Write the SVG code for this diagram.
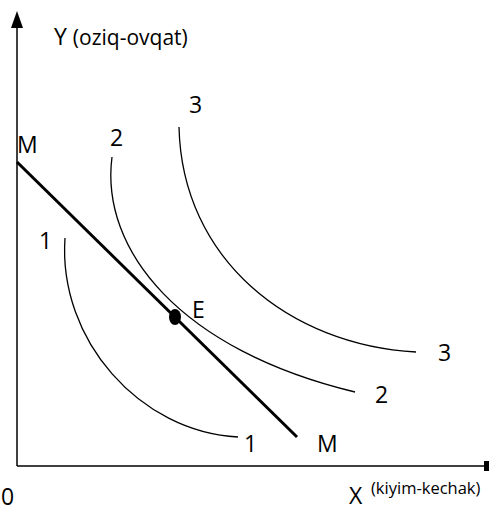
<svg xmlns="http://www.w3.org/2000/svg" width="489" height="511" viewBox="0 0 489 511">
<style>
text{font-family:"Open Sans","Liberation Sans",sans-serif;fill:#000}
.lab{font-size:23px}
.curve{fill:none;stroke:#000;stroke-width:1.3}
.axis{fill:none;stroke:#000;stroke-width:1.5}
</style>
<rect width="489" height="511" fill="#fff"/>
<g id="connectors">
<path class="axis" d="M17,466 V26"/>
<polygon points="17,11 11,28 23,28" fill="#000"/>
<path class="axis" d="M17,466 H485"/>
<rect x="484" y="461" width="5" height="10" fill="#000"/>
<path d="M17,162 L297,437" stroke="#000" stroke-width="3" fill="none"/>
<path id="curve1" class="curve" d="M65,238 C58,340 140,432 238,437"/>
<path id="curve2" class="curve" d="M112,157 C100,250 180,350 355,392"/>
<path id="curve3" class="curve" d="M179,127 C182,260 290,345 416,352"/>
</g>
<g id="E"><ellipse cx="175" cy="317" rx="6" ry="8" fill="#000"/><text class="lab" x="192" y="318">E</text></g>
<g id="axisY"><text x="54" y="45" font-size="23">Y <tspan font-size="21">(oziq-ovqat)</tspan></text></g>
<g id="axisX"><text class="lab" x="349" y="504">X</text><text x="371" y="494" font-size="16.5">(kiyim-kechak)</text></g>
<g id="origin"><text class="lab" x="1" y="505">0</text></g>
<g id="labels">
<text class="lab" x="17" y="153">M</text>
<text class="lab" x="317" y="452">M</text>
<text class="lab" x="39" y="249">1</text>
<text class="lab" x="244" y="452">1</text>
<text class="lab" x="110" y="146">2</text>
<text class="lab" x="375" y="403">2</text>
<text class="lab" x="189" y="113">3</text>
<text class="lab" x="438" y="361">3</text>
</g>
</svg>
